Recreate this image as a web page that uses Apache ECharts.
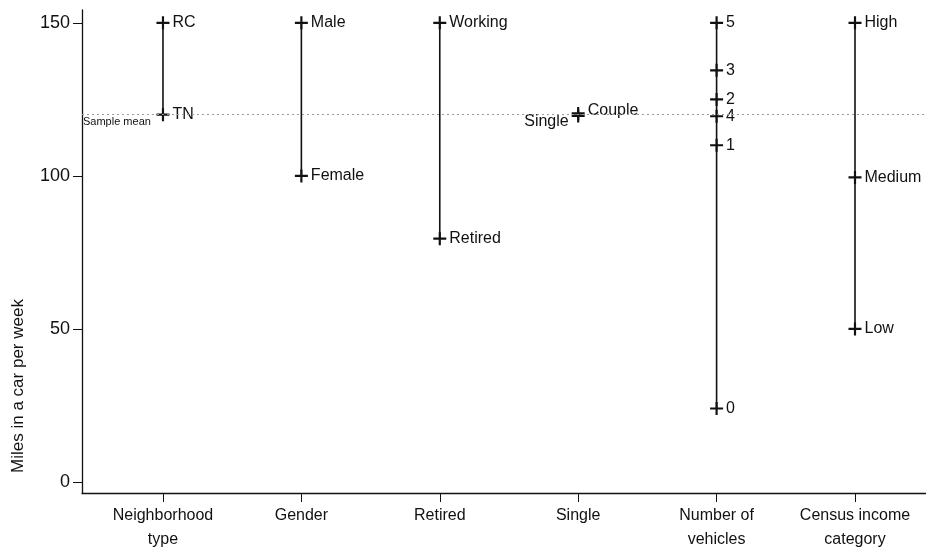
<!DOCTYPE html>
<html>
<head>
<meta charset="utf-8">
<script src="https://cdn.jsdelivr.net/npm/echarts@6/dist/echarts.min.js"></script>
<style>
  html, body { margin: 0; padding: 0; background: #fff; }
  #chart { width: 926px; height: 552px; }
</style>
</head>
<body>
<div id="chart"></div>
<script>
// Mean weekly car miles by household characteristic
const categories = ['Neighborhood\ntype', 'Gender', 'Retired', 'Single', 'Number of\nvehicles', 'Census income\ncategory'];

const neighborhoodLevels = ['RC', 'TN'];
const neighborhoodMiles = [150, 120];
const genderLevels = ['Male', 'Female'];
const genderMiles = [150, 100];
const retiredLevels = ['Working', 'Retired'];
const retiredMiles = [150, 79.5];
const singleLevels = ['Single', 'Couple'];
const singleMiles = [119.6, 120.4];
const vehicleLevels = ['5', '3', '2', '4', '1', '0'];
const vehicleMiles = [150, 134.5, 125, 119.5, 110, 24];
const incomeLevels = ['High', 'Medium', 'Low'];
const incomeMiles = [150, 99.5, 50];

const sampleMean = 120;
const yTicks = [0, 50, 100, 150];

const groups = [
  [neighborhoodLevels, neighborhoodMiles],
  [genderLevels, genderMiles],
  [retiredLevels, retiredMiles],
  [singleLevels, singleMiles],
  [vehicleLevels, vehicleMiles],
  [incomeLevels, incomeMiles]
];

const FONT = '"Liberation Sans", Arial, Helvetica, sans-serif';
const INK = '#111';
const PLUS = 'path://M0,5H12V7H0Z M5,0H7V12H5Z';

// Per-label tweaks for the two overlapping household points
const labelTweaks = {
  Single: { position: 'left', offset: [0, 6] },
  Couple: { position: 'right', offset: [0, -3] }
};

const series = groups.map(([levels, miles], i) => {
  const pts = levels.map((name, j) => {
    const item = { name: name, value: [i, miles[j]] };
    if (i === 3 && labelTweaks[name]) item.label = labelTweaks[name];
    return item;
  }).sort((a, b) => b.value[1] - a.value[1]);
  return {
    type: 'line',
    data: pts,
    symbol: PLUS,
    symbolSize: 13,
    showSymbol: true,
    lineStyle: { color: INK, width: 1.6 },
    itemStyle: { color: INK },
    label: {
      show: true,
      position: 'right',
      distance: 3,
      formatter: '{b}',
      color: INK,
      fontFamily: FONT,
      fontSize: 16
    },
    emphasis: { disabled: true },
    z: 3
  };
});

// Dotted reference line at the overall mean
series.push({
  type: 'line',
  data: [],
  markLine: {
    symbol: 'none',
    silent: true,
    lineStyle: { color: '#9a9a9a', type: [2, 3], width: 1 },
    label: {
      show: true,
      position: 'insideStartBottom',
      distance: [1, 2],
      formatter: 'Sample mean',
      color: INK,
      fontFamily: FONT,
      fontSize: 11
    },
    data: [{ yAxis: sampleMean }]
  },
  z: 1
});

const chart = echarts.init(document.getElementById('chart'), null, { renderer: 'canvas' });
chart.setOption({
  animation: false,
  backgroundColor: '#fff',
  grid: { left: 82, right: 0, top: 10, bottom: 59, containLabel: false },
  xAxis: {
    type: 'value',
    min: -0.585,
    max: 5.513,
    splitLine: { show: false },
    axisLine: { show: true, onZero: false, lineStyle: { color: INK, width: 1.3 } },
    axisTick: { show: true, length: 9, customValues: [0, 1, 2, 3, 4, 5], lineStyle: { color: INK } },
    axisLabel: {
      customValues: [0, 1, 2, 3, 4, 5],
      formatter: v => categories[Math.round(v)],
      color: INK,
      fontFamily: FONT,
      fontSize: 16,
      lineHeight: 24,
      margin: 11
    }
  },
  yAxis: {
    type: 'value',
    min: -3.6,
    max: 154.2,
    splitLine: { show: false },
    axisLine: { show: true, onZero: false, lineStyle: { color: INK, width: 1.3 } },
    axisTick: { show: true, length: 9, customValues: yTicks, lineStyle: { color: INK } },
    axisLabel: {
      customValues: yTicks,
      color: INK,
      fontFamily: FONT,
      fontSize: 18,
      margin: 12
    }
  },
  graphic: [{
    type: 'text',
    x: 18,
    y: 386,
    rotation: Math.PI / 2,
    style: {
      text: 'Miles in a car per week',
      fill: INK,
      font: '17px ' + FONT,
      align: 'center',
      verticalAlign: 'middle'
    }
  }],
  series: series
});
</script>
</body>
</html>
